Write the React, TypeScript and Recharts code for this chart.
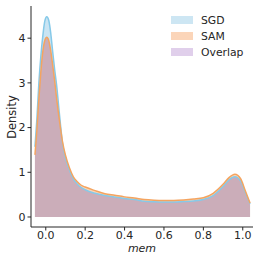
import React from "react";
import { ComposedChart, Area, Line, XAxis, YAxis, Legend } from "recharts";

// values (KDE of "mem")
const memX = [
  -0.055, -0.045, -0.035, -0.025, -0.015, -0.005, 0.005, 0.015, 0.025, 0.035,
  0.045, 0.055, 0.065, 0.075, 0.085, 0.1, 0.12, 0.14, 0.16, 0.18,
  0.2, 0.25, 0.3, 0.35, 0.4, 0.45, 0.5, 0.55, 0.6, 0.65,
  0.7, 0.75, 0.8, 0.85, 0.9, 0.93, 0.96, 0.99, 1.01, 1.037,
];
const sgdDensity = [
  1.57, 2.2, 3.0, 3.6, 4.05, 4.38, 4.48, 4.4, 4.12, 3.7,
  3.3, 2.95, 2.5, 2.05, 1.65, 1.32, 1.05, 0.85, 0.74, 0.66,
  0.61, 0.53, 0.48, 0.445, 0.415, 0.39, 0.35, 0.34, 0.335, 0.335,
  0.345, 0.36, 0.39, 0.48, 0.68, 0.83, 0.9, 0.8, 0.58, 0.29,
];
const samDensity = [
  1.39, 1.95, 2.65, 3.25, 3.7, 3.95, 4.02, 3.95, 3.72, 3.4,
  3.05, 2.65, 2.3, 1.97, 1.68, 1.38, 1.1, 0.9, 0.79, 0.71,
  0.67, 0.59, 0.52, 0.485, 0.45, 0.425, 0.39, 0.375, 0.37, 0.37,
  0.38, 0.4, 0.43, 0.53, 0.73, 0.88, 0.955, 0.85, 0.62, 0.31,
];
const xTicks = [0, 0.2, 0.4, 0.6, 0.8, 1.0];
const yTicks = [0, 1, 2, 3, 4];
const legendNames = ["SGD", "SAM", "Overlap"];
const legendColors = ["#cde6f3", "#fbd5b9", "#e0cfeb"];

const data = memX.map((x, i) => ({
  x,
  sgd: sgdDensity[i],
  sam: samDensity[i],
  overlap: Math.min(sgdDensity[i], samDensity[i]),
}));

const font = "'DejaVu Sans', sans-serif";
const ink = "#262626";

const renderLegend = () => (
  <div style={{ fontFamily: font, fontSize: 10.8, color: ink }}>
    {legendNames.map((name, i) => (
      <div
        key={name}
        style={{ display: "flex", alignItems: "center", height: 16, gap: 8 }}
      >
        <span
          style={{
            display: "inline-block",
            width: 22,
            height: 8,
            background: legendColors[i],
          }}
        />
        <span>{name}</span>
      </div>
    ))}
  </div>
);

export default function App() {
  return (
    <div style={{ position: "absolute", left: 0, top: 0, width: 261, height: 261, background: "#fff" }}>
      <ComposedChart
        width={261}
        height={261}
        data={data}
        margin={{ top: 6, right: 8, bottom: 0, left: 0 }}
      >
        <XAxis
          type="number"
          dataKey="x"
          domain={[-0.075, 1.052]}
          ticks={xTicks}
          interval={0}
          allowDataOverflow
          tickFormatter={(v: number) => v.toFixed(1)}
          height={34}
          tickSize={3.5}
          tickMargin={0.5}
          axisLine={{ stroke: ink, strokeWidth: 1 }}
          tickLine={{ stroke: ink }}
          tick={{ fontSize: 11, fill: ink, fontFamily: font }}
          label={{
            content: () => (
              <text
                x={142}
                y={248.5}
                textAnchor="middle"
                dominantBaseline="central"
                fontSize={11}
                fontStyle="italic"
                fontFamily={font}
                fill={ink}
              >
                mem
              </text>
            ),
          }}
        />
        <YAxis
          type="number"
          domain={[-0.224, 4.72]}
          ticks={yTicks}
          interval={0}
          allowDataOverflow
          width={31}
          tickSize={3.5}
          tickMargin={2}
          axisLine={{ stroke: ink, strokeWidth: 1 }}
          tickLine={{ stroke: ink }}
          tick={{ fontSize: 11, fill: ink, fontFamily: font }}
          label={{
            content: () => (
              <text
                x={11.5}
                y={117}
                transform="rotate(-90 11.5 117)"
                textAnchor="middle"
                dominantBaseline="central"
                fontSize={11.4}
                fontFamily={font}
                fill={ink}
              >
                Density
              </text>
            ),
          }}
        />
        <Legend
          layout="vertical"
          align="center"
          verticalAlign="middle"
          wrapperStyle={{ top: 12, left: 171, width: 80 }}
          content={renderLegend}
        />

        <Area
          type="monotone"
          dataKey="sgd"
          baseValue={0}
          fill="#c9e4f3"
          fillOpacity={1}
          stroke="none"
          isAnimationActive={false}
        />
        <Area
          type="monotone"
          dataKey="sam"
          baseValue={0}
          fill="#fcd6b8"
          fillOpacity={1}
          stroke="none"
          isAnimationActive={false}
        />
        <Area
          type="monotone"
          dataKey="overlap"
          baseValue={0}
          fill="#cbadb9"
          fillOpacity={1}
          stroke="none"
          isAnimationActive={false}
        />
        <Line
          type="monotone"
          dataKey="sgd"
          stroke="#86c9e8"
          strokeWidth={1.5}
          dot={false}
          isAnimationActive={false}
        />
        <Line
          type="monotone"
          dataKey="sam"
          stroke="#f4a460"
          strokeWidth={1.5}
          dot={false}
          isAnimationActive={false}
        />
      </ComposedChart>
    </div>
  );
}
